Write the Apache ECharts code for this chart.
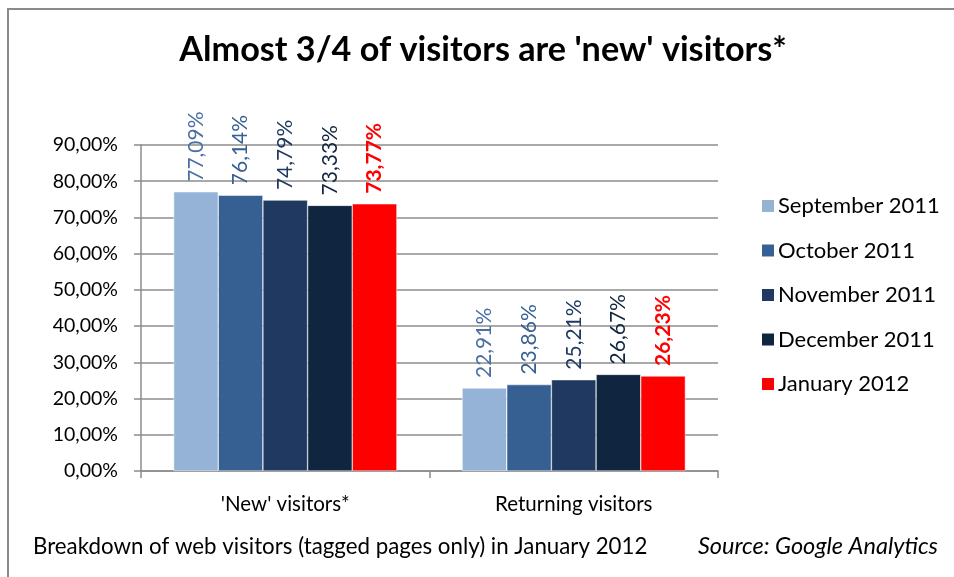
<!DOCTYPE html>
<html><head><meta charset="utf-8">
<script src="https://cdn.jsdelivr.net/npm/echarts@6/dist/echarts.min.js"></script>
<style>html,body{margin:0;padding:0;background:#fff}#c{width:954px;height:577px}</style>
</head><body><div id="c"></div>
<script>
const categories = ["'New' visitors*", "Returning visitors"];
const seriesNames = ["September 2011", "October 2011", "November 2011", "December 2011", "January 2012"];
const sep2011 = [77.09, 22.91];
const oct2011 = [76.14, 23.86];
const nov2011 = [74.79, 25.21];
const dec2011 = [73.33, 26.67];
const jan2012 = [73.77, 26.23];
const yTicks = [0, 10, 20, 30, 40, 50, 60, 70, 80, 90];

const barColors = ['#95b3d7', '#376092', '#1f3961', '#10253f', '#ff0000'];
const labelColors = ['#4a70a3', '#376092', '#1f3961', '#10253f', '#ff0000'];
const values = [sep2011, oct2011, nov2011, dec2011, jan2012];
const FONT = 'Lato, "Open Sans", sans-serif';

const chart = echarts.init(document.getElementById('c'));
const fmt = v => v.toFixed(2).replace('.', ',') + '%';
chart.setOption({
  animation: false,
  backgroundColor: '#fff',
  title: {
    text: "Almost 3/4 of visitors are 'new' visitors*",
    left: 478, top: 28, textAlign: 'center',
    textStyle: {fontFamily: FONT, fontSize: 34.2, fontWeight: 'bold', color: '#000'}
  },
  legend: {
    orient: 'vertical', left: 760, top: 195, padding: 0,
    itemWidth: 14, itemHeight: 14, itemGap: 22.5,
    icon: 'rect',
    textStyle: {fontFamily: FONT, fontSize: 22, color: '#000', padding: [0, 0, 0, -2]},
    data: seriesNames
  },
  grid: {left: 141, top: 145, width: 577, height: 326, containLabel: false},
  xAxis: {
    type: 'category', data: categories,
    axisLine: {lineStyle: {color: '#8c8c8c', width: 1.5}},
    axisTick: {show: true, length: 7, lineStyle: {color: '#8c8c8c', width: 1.5}},
    axisLabel: {fontFamily: FONT, fontSize: 20.5, color: '#000', margin: 23}
  },
  yAxis: {
    type: 'value', min: 0, max: 90, interval: 10,
    axisLine: {show: true, lineStyle: {color: '#8c8c8c', width: 1.5}},
    axisTick: {show: true, length: 7, lineStyle: {color: '#8c8c8c', width: 1.5}},
    splitLine: {lineStyle: {color: '#8c8c8c', width: 1.5}},
    axisLabel: {fontFamily: FONT, fontSize: 19.5, color: '#000', margin: 23,
      formatter: v => yTicks.includes(v) ? v.toFixed(2).replace('.', ',') + '%' : ''}
  },
  series: seriesNames.map((n, i) => ({
    name: n, type: 'bar', data: values[i],
    barGap: '0%', barCategoryGap: '22.6%',
    itemStyle: {color: barColors[i], borderColor: '#ffffff', borderWidth: 0.5},
    label: {
      show: true, position: 'top', rotate: 90, align: 'left', verticalAlign: 'middle',
      distance: 10, formatter: p => fmt(p.value),
      fontFamily: FONT, fontSize: 21, color: labelColors[i],
      fontWeight: i === 4 ? 'bold' : 'normal'
    }
  })),
  graphic: [
    {type: 'rect', shape: {x: 8, y: 9, width: 1000, height: 700},
     style: {fill: 'none', stroke: '#8a8a8a', lineWidth: 2}, silent: true, z: -1},
    {type: 'text', left: 33, top: 536,
     style: {text: 'Breakdown of web visitors (tagged pages only) in January 2012',
       font: '22.3px ' + FONT, fill: '#000'}},
    {type: 'text', right: 16, top: 535,
     style: {text: 'Source: Google Analytics', font: 'italic 23.5px ' + FONT, fill: '#000'}}
  ]
});
</script></body></html>
